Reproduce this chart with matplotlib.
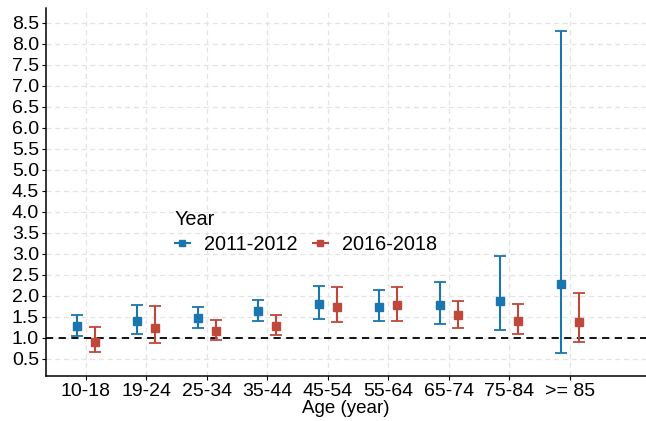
import numpy as np
import matplotlib
matplotlib.use("Agg")
import matplotlib.pyplot as plt
from matplotlib.lines import Line2D

plt.rcParams['font.family'] = ['Liberation Sans', 'DejaVu Sans']

AGE_GROUPS = ['10-18', '19-24', '25-34', '35-44', '45-54', '55-64',
              '65-74', '75-84', '>= 85']

# point estimate with lower / upper interval for each survey period
EST_2011 = [1.29, 1.40, 1.46, 1.63, 1.80, 1.74, 1.77, 1.87, 2.28]
LOW_2011 = [1.05, 1.10, 1.22, 1.40, 1.44, 1.41, 1.33, 1.18, 0.64]
HIGH_2011 = [1.55, 1.79, 1.74, 1.89, 2.24, 2.14, 2.33, 2.95, 8.30]

EST_2016 = [0.90, 1.22, 1.16, 1.28, 1.74, 1.78, 1.54, 1.40, 1.37]
LOW_2016 = [0.65, 0.87, 0.95, 1.06, 1.37, 1.41, 1.24, 1.09, 0.90]
HIGH_2016 = [1.26, 1.76, 1.42, 1.55, 2.21, 2.21, 1.88, 1.80, 2.07]

YEARS = ['2011-2012', '2016-2018']
COLORS = ['#1b75ae', '#c0483a']

fig = plt.figure(figsize=(6.46, 4.21), dpi=100)
ax = fig.add_axes([0.071, 0.107, 0.929, 0.874])

x = np.arange(1, len(AGE_GROUPS) + 1)
series = [(EST_2011, LOW_2011, HIGH_2011), (EST_2016, LOW_2016, HIGH_2016)]
for i, (est, lo, hi) in enumerate(series):
    est = np.array(est)
    err = [est - np.array(lo), np.array(hi) - est]
    ax.errorbar(x + (i - 0.5) * 0.3, est, yerr=err, fmt='s', color=COLORS[i],
                ms=5.5, elinewidth=1.5, capsize=4, capthick=1.3, zorder=3)

ax.axhline(1.0, color='black', ls=(0, (4, 3)), lw=1.3, zorder=2)

ax.set_xlim(0.34, 10.26)
ax.set_ylim(0.09, 8.85)
ax.set_xticks(x)
ax.set_xticklabels(AGE_GROUPS)
ax.set_yticks(np.arange(0.5, 8.51, 0.5))
ax.set_yticklabels(['%.1f' % v for v in np.arange(0.5, 8.51, 0.5)])
ax.tick_params(labelsize=14, colors='black', length=3, width=0.8, pad=2)
ax.grid(True, color='#e4e4e4', ls=(0, (4, 3)), lw=0.9)
ax.set_axisbelow(True)
for side in ['top', 'right']:
    ax.spines[side].set_visible(False)
for side in ['left', 'bottom']:
    ax.spines[side].set_linewidth(1.1)
ax.set_xlabel('Age (year)', fontsize=13.5, labelpad=0)

handles = [Line2D([], [], color=c, marker='s', ms=4, lw=1.5) for c in COLORS]
leg = ax.legend(handles, YEARS, title='Year', ncol=2, frameon=False,
                loc='upper left', bbox_to_anchor=(0.185, 0.5),
                fontsize=14.3, title_fontsize=14.3, handlelength=0.75,
                columnspacing=0.8, handletextpad=0.7, labelspacing=0.3,
                alignment='left')

fig.savefig('out.png', dpi=100, facecolor='white')
